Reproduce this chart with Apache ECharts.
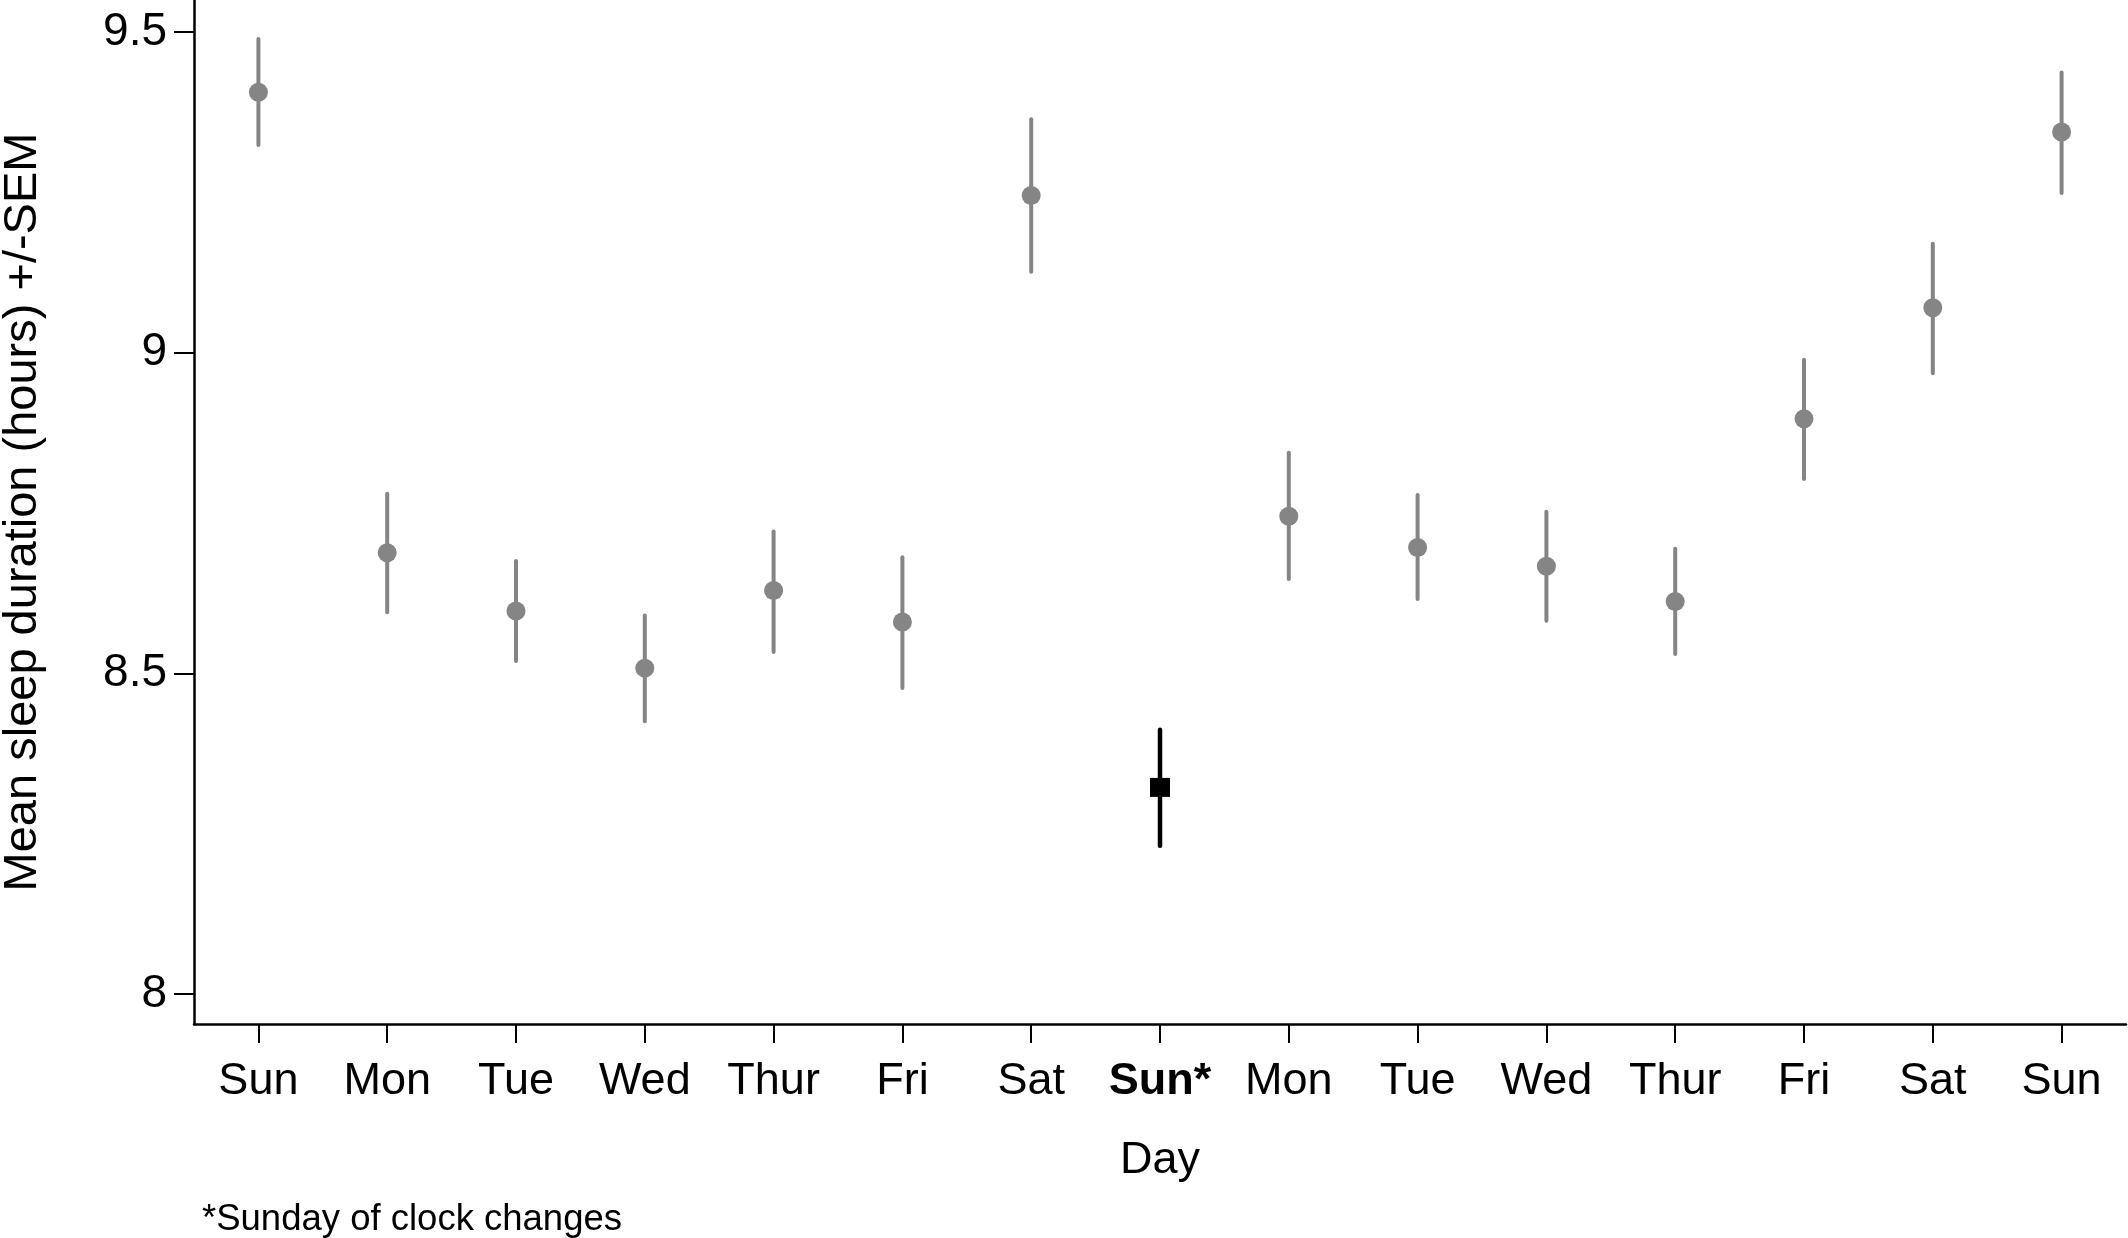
<!DOCTYPE html>
<html>
<head>
<meta charset="utf-8">
<script src="https://cdn.jsdelivr.net/npm/echarts@6/dist/echarts.min.js"></script>
<style>
html,body{margin:0;padding:0;background:#fff;}
#chart{width:2128px;height:1238px;}
</style>
</head>
<body>
<div id="chart"></div>
<script>
var dayLabels = ['Sun','Mon','Tue','Wed','Thur','Fri','Sat','Sun*','Mon','Tue','Wed','Thur','Fri','Sat','Sun'];
var meanSleep = [9.406, 8.688, 8.597, 8.508, 8.629, 8.580, 9.245, 8.322, 8.745, 8.696, 8.667, 8.612, 8.897, 9.070, 9.344];
var semLow    = [9.324, 8.595, 8.519, 8.425, 8.533, 8.477, 9.126, 8.231, 8.647, 8.616, 8.582, 8.530, 8.803, 8.968, 9.249];
var semHigh   = [9.489, 8.780, 8.675, 8.590, 8.721, 8.681, 9.364, 8.412, 8.844, 8.778, 8.752, 8.694, 8.989, 9.170, 9.437];
var yTicks = [8, 8.5, 9, 9.5];
var clockChangeIndex = 7;

var positions = dayLabels.map(function(_, i){ return i + 1; });
var normalPts = [], normalBars = [], specialPts = [], specialBars = [];
for (var i = 0; i < dayLabels.length; i++) {
  if (i === clockChangeIndex) {
    specialPts.push([i + 1, meanSleep[i]]);
    specialBars.push([i + 1, semLow[i], semHigh[i]]);
  } else {
    normalPts.push([i + 1, meanSleep[i]]);
    normalBars.push([i + 1, semLow[i], semHigh[i]]);
  }
}

function errRender(color, width) {
  return function(params, api) {
    var p1 = api.coord([api.value(0), api.value(1)]);
    var p2 = api.coord([api.value(0), api.value(2)]);
    return {
      type: 'line',
      shape: {x1: p1[0], y1: p1[1], x2: p2[0], y2: p2[1]},
      style: {stroke: color, lineWidth: width, lineCap: 'round'}
    };
  };
}

var FONT = 'Liberation Sans, Arial, Helvetica, sans-serif';
var chart = echarts.init(document.getElementById('chart'));
chart.setOption({
  animation: false,
  backgroundColor: '#ffffff',
  grid: {left: 194, right: 2, top: 0, bottom: 214, containLabel: false, outerBoundsMode: 'none'},
  xAxis: {
    type: 'value', min: 0.5, max: 15.5,
    name: 'Day', nameLocation: 'middle', nameGap: 114,
    nameTextStyle: {fontSize: 45, color: '#000', fontFamily: FONT},
    axisLine: {show: true, onZero: false, lineStyle: {color: '#000', width: 2.5}},
    axisTick: {show: true, inside: false, length: 19, lineStyle: {color: '#000', width: 2}, customValues: positions},
    axisLabel: {
      show: true, margin: 35, fontSize: 45, color: '#000', fontFamily: FONT,
      customValues: positions,
      formatter: function(v) {
        var idx = Math.round(v) - 1;
        if (idx === clockChangeIndex) return '{b|' + dayLabels[idx] + '}';
        return dayLabels[idx] || '';
      },
      rich: {b: {fontWeight: 'bold', fontSize: 45, color: '#000', fontFamily: FONT}}
    },
    splitLine: {show: false}
  },
  yAxis: {
    type: 'value', min: 7.953, max: 9.55,
    name: 'Mean sleep duration (hours) +/-SEM', nameLocation: 'middle', nameGap: 147,
    nameTextStyle: {fontSize: 47, color: '#000', fontFamily: FONT},
    axisLine: {show: true, onZero: false, lineStyle: {color: '#000', width: 2.5}},
    axisTick: {show: true, inside: false, length: 20, lineStyle: {color: '#000', width: 2}, customValues: yTicks},
    axisLabel: {show: true, margin: 27, fontSize: 46, color: '#000', fontFamily: FONT, customValues: yTicks,
      formatter: function(v){ return String(v); }},
    splitLine: {show: false}
  },
  graphic: [{
    type: 'text', left: 202, top: 1201,
    style: {text: '*Sunday of clock changes', fontSize: 36.5, fill: '#000', fontFamily: FONT}
  }],
  series: [
    {type: 'custom', renderItem: errRender('#858585', 4), data: normalBars, encode: {x: 0, y: [1, 2]}, z: 2},
    {type: 'custom', renderItem: errRender('#000000', 4.5), data: specialBars, encode: {x: 0, y: [1, 2]}, z: 2},
    {type: 'scatter', data: normalPts, symbol: 'circle', symbolSize: 19, itemStyle: {color: '#858585', opacity: 1}, z: 3},
    {type: 'scatter', data: specialPts, symbol: 'rect', symbolSize: [20, 19], itemStyle: {color: '#000000', opacity: 1}, z: 3}
  ]
});
</script>
</body>
</html>
